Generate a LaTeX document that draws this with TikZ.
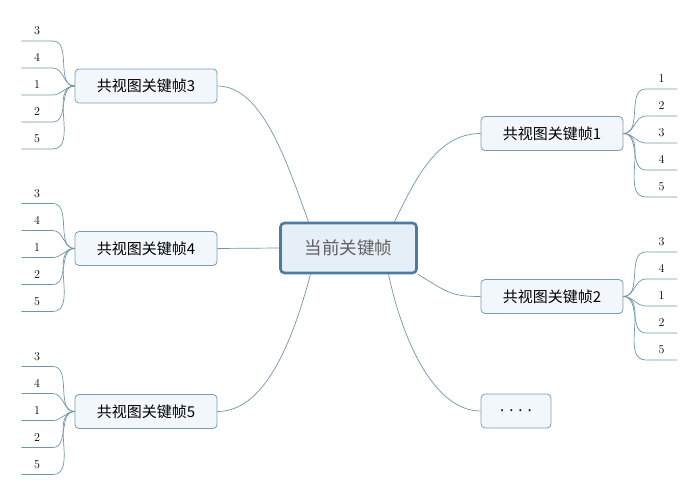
\documentclass[tikz,border=0pt]{standalone}
\usepackage{fontspec}
\usepackage{tikz}
\newfontfamily\cjk{Noto Sans CJK SC}
\definecolor{linkblue}{RGB}{110,150,170}
\definecolor{boxblue}{RGB}{125,155,180}
\definecolor{boxfill}{RGB}{241,247,251}
\definecolor{rootblue}{RGB}{75,123,163}
\definecolor{rootfill}{RGB}{230,238,248}
\definecolor{roottext}{RGB}{95,95,95}

\begin{document}
\begin{tikzpicture}[x=1pt, y=-1pt,
    frame/.style={draw=boxblue, fill=boxfill, rounded corners=4pt, line width=0.8pt,
        minimum width=142pt, minimum height=34pt, inner sep=0pt, font=\cjk\fontsize{15}{15}\selectfont},
    root/.style={draw=rootblue, fill=rootfill, rounded corners=4pt, line width=2.6pt,
        minimum width=136pt, minimum height=50pt, text=roottext, font=\cjk\fontsize{17.5}{17.5}\selectfont},
    leaf/.style={minimum width=31pt, minimum height=20pt, inner sep=0pt, font=\fontsize{12}{12}\selectfont},
    link/.style={draw=linkblue, line width=0.7pt}]
    \useasboundingbox (0,0) rectangle (697,497);

    % Centre
    \node[root] (cur) at (348.5,248) {当前关键帧};

    % Covisible frames
    \node[frame] (kf3) at (146,86) {共视图关键帧3};
    \node[frame] (kf4) at (146,248.5) {共视图关键帧4};
    \node[frame] (kf5) at (146,411.5) {共视图关键帧5};
    \node[frame] (kf1) at (552,133.5) {共视图关键帧1};
    \node[frame] (kf2) at (552,296.5) {共视图关键帧2};
    \node[frame, minimum width=70pt] (more) at (516,411) {.\hspace{5pt}.\hspace{5pt}.\hspace{5pt}.};

    % Links from the centre
    \draw[link] ([xshift=-40pt]cur.north) .. controls +(-22,-60) and +(45,0) .. (kf3.east);
    \draw[link] (cur.west) -- (kf4.east);
    \draw[link] ([xshift=-38pt]cur.south) .. controls +(-20,75) and +(45,0) .. (kf5.east);
    \draw[link] ([xshift=46pt]cur.north) .. controls +(20,-40) and +(-45,0) .. (kf1.west);
    \draw[link] (cur.south east) .. controls +(30,18) and +(-30,0) .. (kf2.west);
    \draw[link] ([xshift=40pt]cur.south) .. controls +(15,70) and +(-45,0) .. (more.west);

    % Leaves, left side
    \foreach \kf/\cy in {kf3/86, kf4/248.5, kf5/411.5} {
        \foreach \lab [count=\i] in {3,4,1,2,5} {
            \node[leaf, anchor=south] (\kf-\i) at (37,\cy-45+27*\i-27) {\lab};
            \draw[link] (\kf.west) to[out=180, in=0] (\kf-\i.south east) -- (\kf-\i.south west);
        }
    }

    % Leaves, right side
    \foreach \lab [count=\i] in {1,2,3,4,5} {
        \node[leaf, anchor=south] (kf1-\i) at (661.5,133.5-44.5+27*\i-27) {\lab};
        \draw[link] (kf1.east) to[out=0, in=180] (kf1-\i.south west) -- (kf1-\i.south east);
    }
    \foreach \lab [count=\i] in {3,4,1,2,5} {
        \node[leaf, anchor=south] (kf2-\i) at (661.5,296.5-44.5+27*\i-27) {\lab};
        \draw[link] (kf2.east) to[out=0, in=180] (kf2-\i.south west) -- (kf2-\i.south east);
    }
\end{tikzpicture}
\end{document}
